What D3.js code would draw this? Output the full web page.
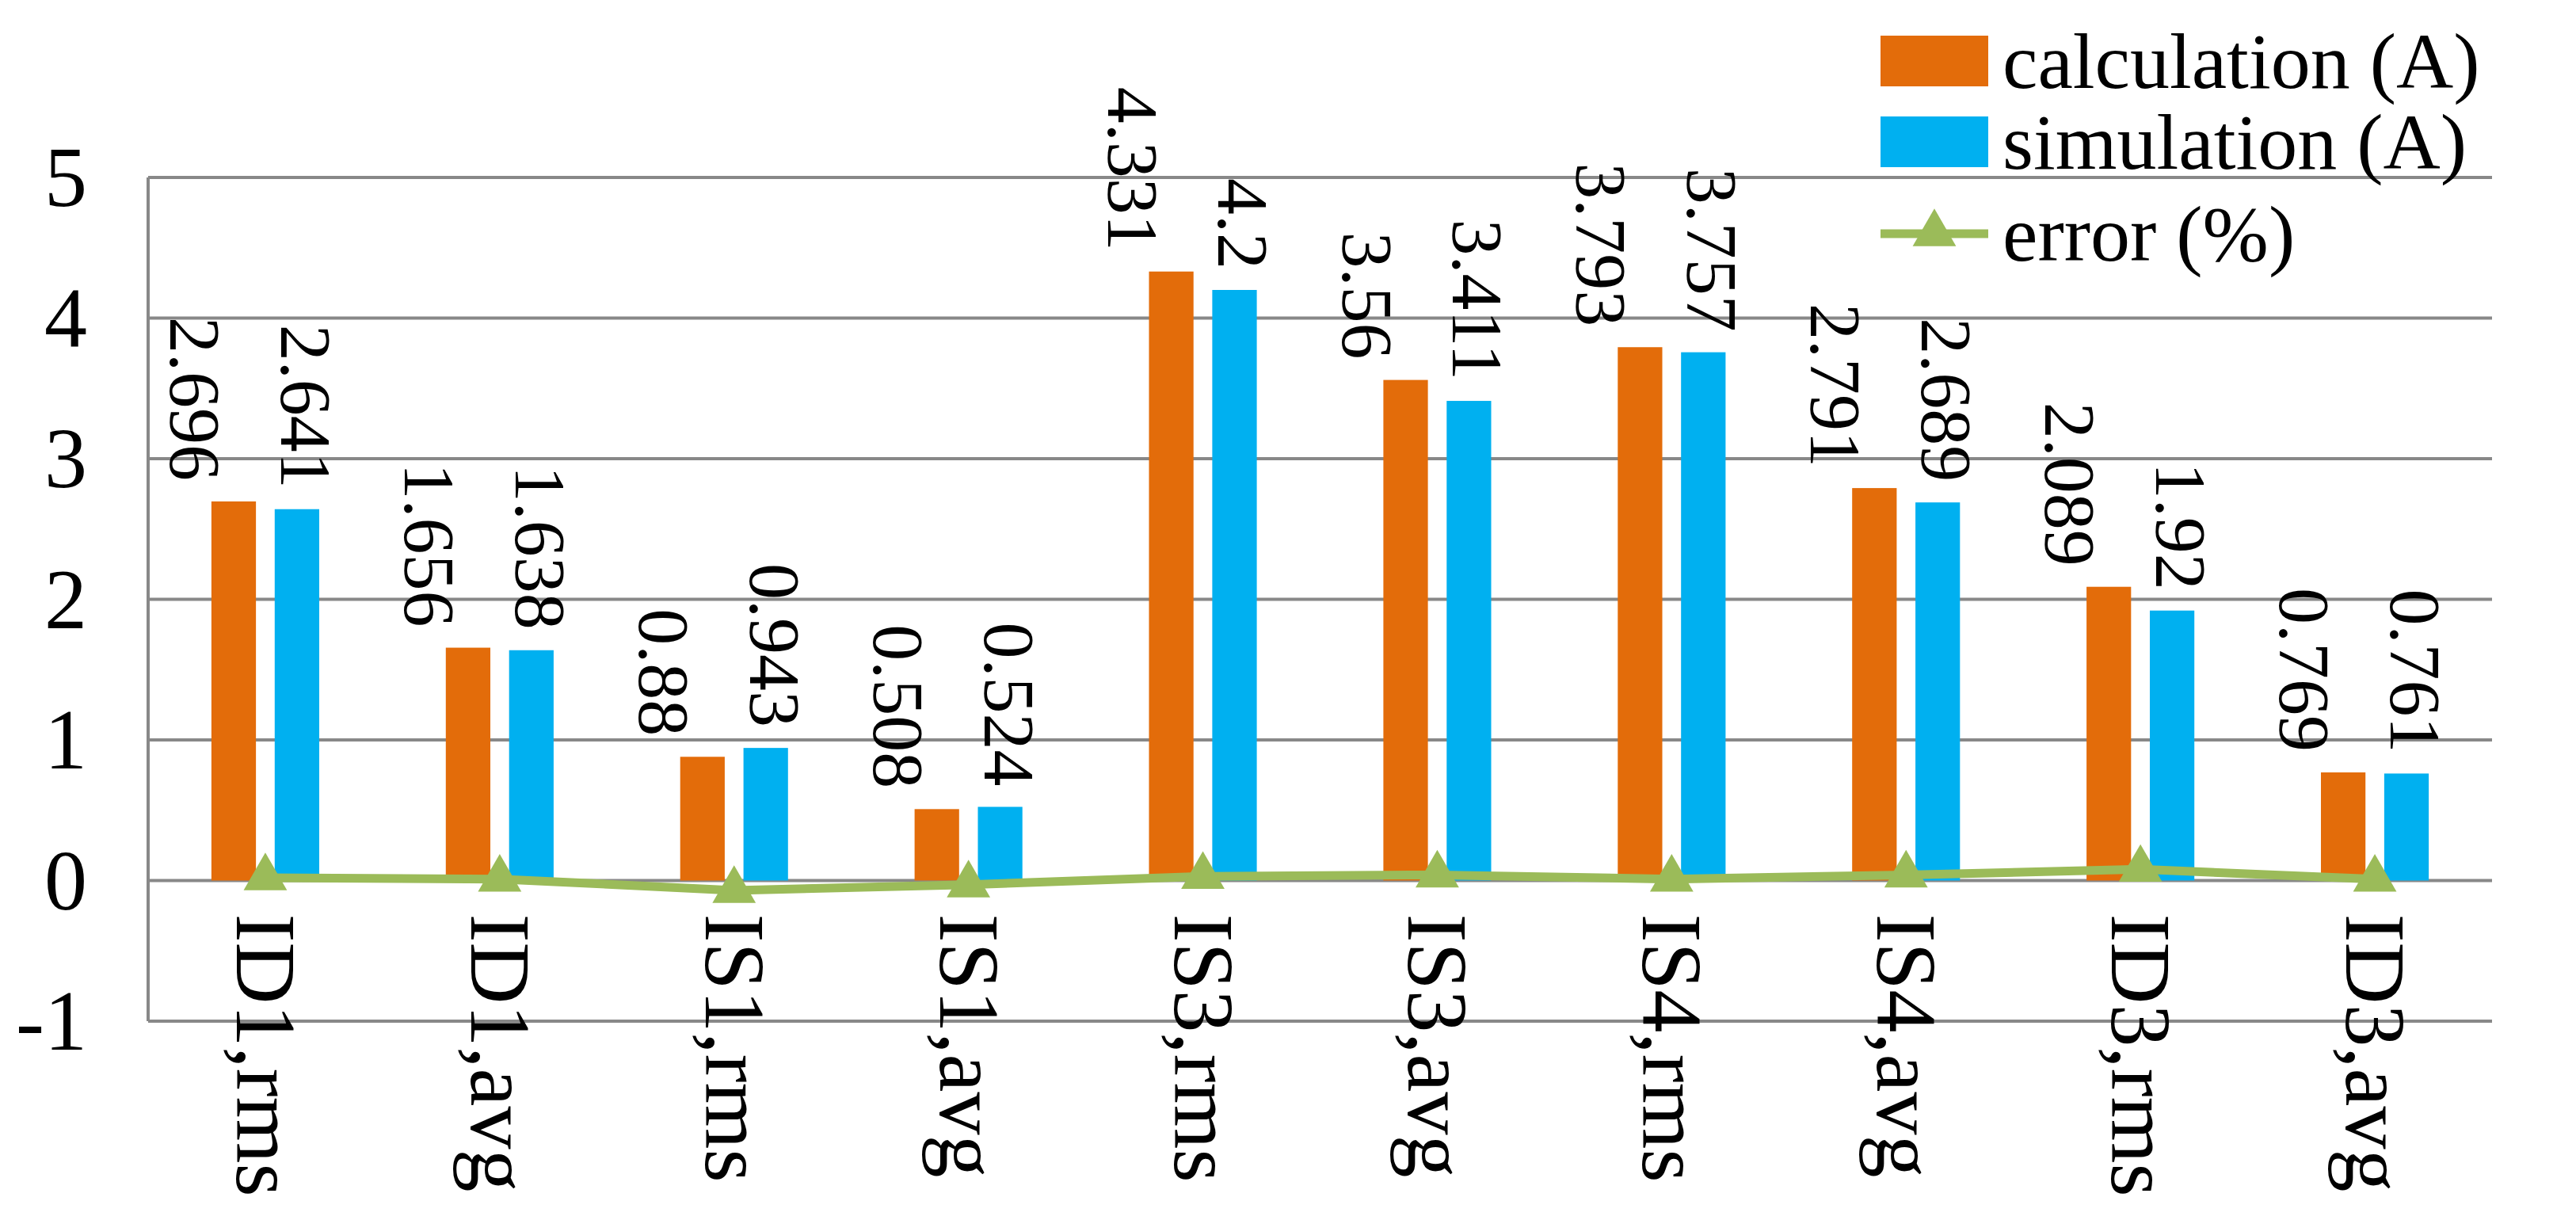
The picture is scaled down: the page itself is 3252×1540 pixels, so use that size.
<!DOCTYPE html>
<html><head><meta charset="utf-8">
<script src="https://cdn.jsdelivr.net/npm/d3@7"></script>
<style>body{margin:0;background:#fff}svg{display:block}</style>
</head><body><svg id="c" width="3252" height="1540" font-family="'Liberation Serif','DejaVu Serif',serif"></svg>
<script>
const categories=["ID1,rms","ID1,avg","IS1,rms","IS1,avg","IS3,rms","IS3,avg","IS4,rms","IS4,avg","ID3,rms","ID3,avg"];
const calculation=[2.696,1.656,0.88,0.508,4.331,3.56,3.793,2.791,2.089,0.769];
const simulation=[2.641,1.638,0.943,0.524,4.2,3.411,3.757,2.689,1.92,0.761];
const errorPct=[0.02,0.01,-0.07,-0.03,0.03,0.04,0.01,0.04,0.08,0.01];
const yTicks=[-1,0,1,2,3,4,5];
const seriesNames=["calculation (A)","simulation (A)","error (%)"];
const colors=["#E36C0A","#00B0F0","#9BBB59"];

const svg=d3.select("#c");
const L=187,R=3146,T=224,B=1289;
const x=d3.scaleBand().domain(categories).range([L,R]);
const y=d3.scaleLinear().domain([-1,5]).range([B,T]);
const bw=x.bandwidth()*0.19, gap=x.bandwidth()*0.08;

svg.append("g").selectAll("line").data(yTicks).join("line")
 .attr("x1",L).attr("x2",R).attr("y1",d=>y(d)).attr("y2",d=>y(d))
 .attr("stroke","#888").attr("stroke-width",4);
svg.append("line").attr("x1",L).attr("x2",L).attr("y1",T).attr("y2",B).attr("stroke","#888").attr("stroke-width",4);
svg.append("g").selectAll("text").data(yTicks).join("text")
 .attr("x",110).attr("y",d=>y(d)+36).attr("text-anchor","end").attr("font-size",108).text(d=>d);

const cx=d=>x(d)+x.bandwidth()/2;
[calculation,simulation].forEach((vals,si)=>{
  const off=si===0?-gap/2-bw:gap/2;
  svg.append("g").selectAll("rect").data(vals).join("rect")
   .attr("x",(d,i)=>cx(categories[i])+off).attr("width",bw)
   .attr("y",d=>y(d)).attr("height",d=>y(0)-y(d)).attr("fill",colors[si]);
  const bc=off+bw/2, lo=si===0?-80:-20;
  svg.append("g").selectAll("text").data(vals).join("text")
   .attr("font-size",92).attr("text-anchor","end")
   .attr("transform",(d,i)=>`translate(${cx(categories[i])+bc+lo},${y(d)-26}) rotate(90)`)
   .text(d=>d);
});

const line=d3.line().x((d,i)=>cx(categories[i])).y(d=>y(d));
svg.append("path").datum(errorPct).attr("d",line).attr("fill","none").attr("stroke",colors[2]).attr("stroke-width",11);
const tri=d3.symbol().type(d3.symbolTriangle).size(1300);
svg.append("g").selectAll("path").data(errorPct).join("path")
 .attr("d",tri).attr("fill",colors[2])
 .attr("transform",(d,i)=>`translate(${cx(categories[i])},${y(d)})`);

svg.append("g").selectAll("text").data(categories).join("text")
 .attr("font-size",108)
 .attr("transform",d=>`translate(${cx(d)-36},${y(0)+42}) rotate(90)`)
 .text(d=>d);

const legY=[77,179,295];
seriesNames.forEach((n,i)=>{
  if(i<2) svg.append("rect").attr("x",2374).attr("y",legY[i]-32).attr("width",136).attr("height",64).attr("fill",colors[i]);
  else{
    svg.append("line").attr("x1",2374).attr("x2",2510).attr("y1",legY[i]).attr("y2",legY[i]).attr("stroke",colors[2]).attr("stroke-width",11);
    svg.append("path").attr("d",tri).attr("fill",colors[2]).attr("transform",`translate(2442,${legY[i]})`);
  }
  svg.append("text").attr("x",2528).attr("y",legY[i]+34).attr("font-size",100).text(n);
});
</script></body></html>
